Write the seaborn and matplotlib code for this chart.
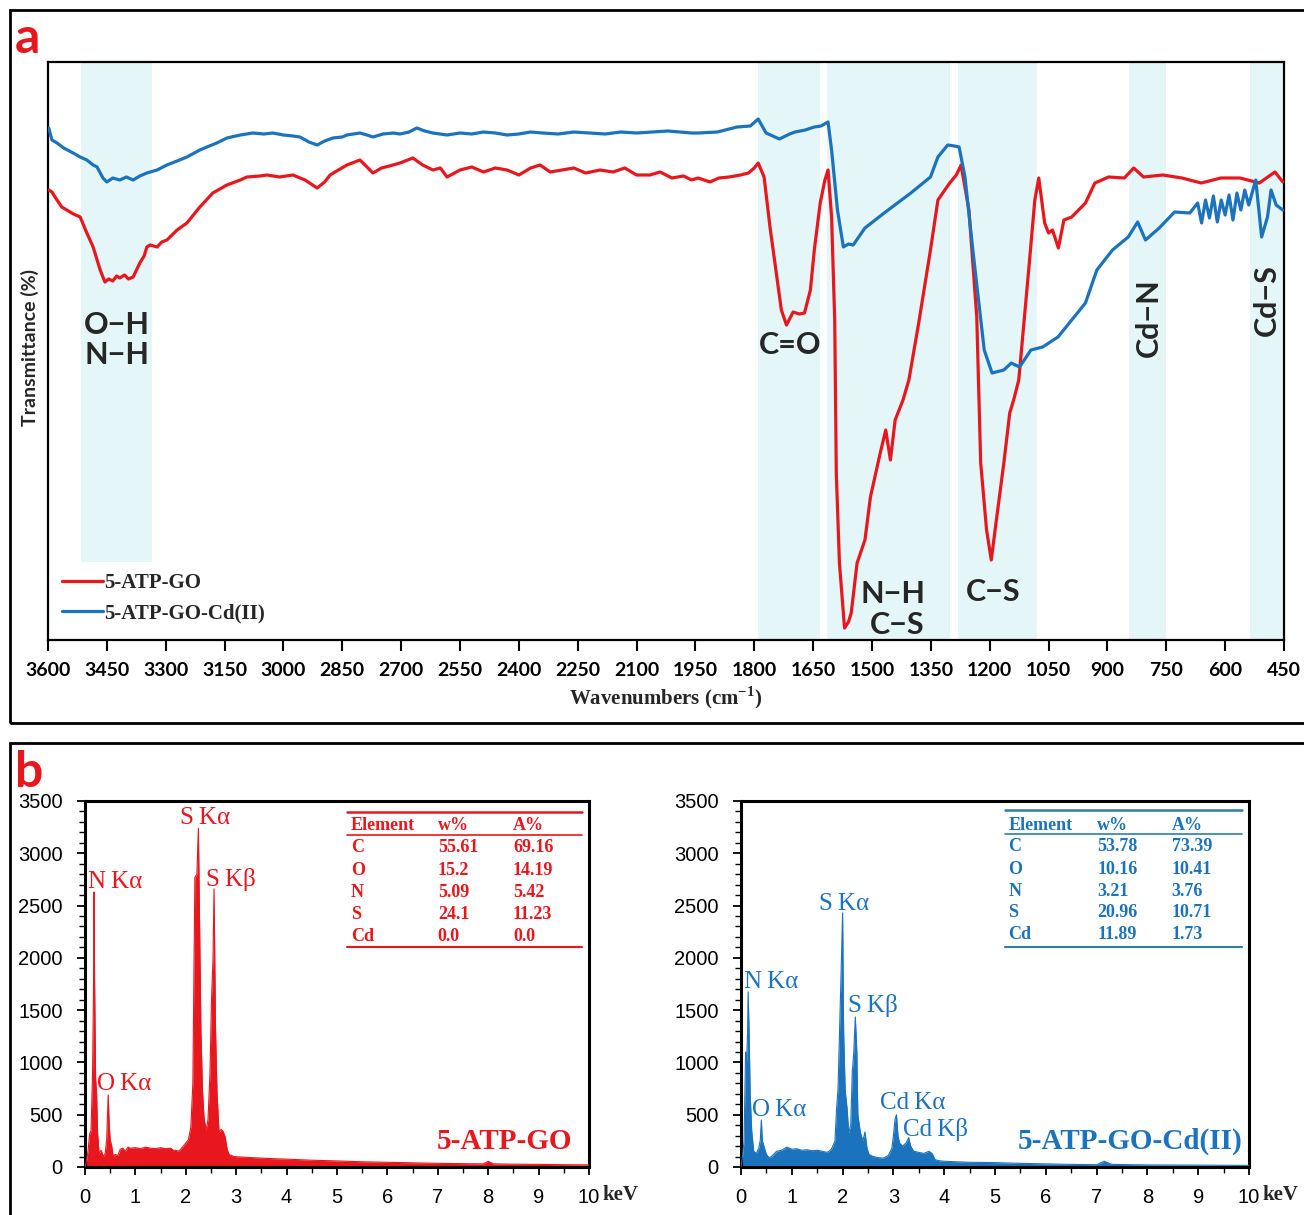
import matplotlib
matplotlib.use("Agg")
import matplotlib.pyplot as plt
from matplotlib.patches import Rectangle
from matplotlib.ticker import MultipleLocator
import pandas as pd
import seaborn as sns

sns.set_theme(style="white")
plt.rcParams['font.family'] = ['Lato', 'DejaVu Sans']
plt.rcParams['mathtext.fontset'] = 'custom'
plt.rcParams['mathtext.rm'] = 'Liberation Serif:bold'
plt.rcParams['mathtext.bf'] = 'Liberation Serif:bold'

RED = "#e8161d"
BLUE = "#1c73bd"
BAND = "#e4f6f7"
TEAL = "#2f7fa3"
SERIF = ['Liberation Serif', 'DejaVu Serif']

# ---------------- FTIR spectra ----------------
wn_go = [3598, 3590, 3577, 3565, 3552, 3535, 3518, 3501, 3485, 3467, 3455, 3445, 3435, 3425,
         3417, 3405, 3395, 3383, 3366, 3355, 3348, 3340, 3322, 3310, 3297, 3271, 3246, 3213,
         3180, 3144, 3110, 3093, 3060, 3042, 3010, 2976, 2945, 2914, 2895, 2881, 2860, 2838,
         2805, 2787, 2772, 2750, 2730, 2703, 2670, 2645, 2619, 2600, 2583, 2550, 2520, 2490,
         2460, 2430, 2400, 2370, 2346, 2320, 2290, 2260, 2230, 2193, 2160, 2130, 2100, 2066,
         2040, 2010, 1980, 1960, 1943, 1913, 1890, 1864, 1835, 1815, 1800, 1790, 1775, 1760,
         1746, 1731, 1718, 1701, 1685, 1672, 1657, 1647, 1632, 1620, 1612, 1603, 1595, 1591,
         1583, 1570, 1560, 1553, 1538, 1518, 1504, 1479, 1465, 1453, 1441, 1421, 1406, 1381,
         1351, 1332, 1302, 1285, 1273, 1253, 1233, 1223, 1208, 1196, 1184, 1164, 1149, 1139,
         1126, 1100, 1085, 1075, 1060, 1050, 1040, 1025, 1011, 991, 956, 932, 897, 857, 833,
         808, 759, 710, 661, 611, 562, 513, 473, 453]
t_go = [51.0, 50.8, 50.0, 49.3, 49.0, 48.6, 48.3, 46.7, 45.3, 43.0, 41.8, 42.1, 41.9, 42.4,
        42.2, 42.5, 42.1, 42.3, 43.7, 44.4, 45.3, 45.5, 45.3, 45.8, 46.0, 47.0, 47.7, 49.3,
        50.7, 51.5, 52.0, 52.3, 52.4, 52.5, 52.3, 52.5, 52.0, 51.2, 51.8, 52.5, 53.0, 53.5,
        54.0, 53.3, 52.7, 53.2, 53.4, 53.7, 54.2, 53.5, 53.0, 53.2, 52.3, 53.0, 53.3, 52.8,
        53.2, 53.0, 52.5, 53.2, 53.5, 52.8, 53.0, 53.2, 52.7, 53.0, 52.8, 53.2, 52.5, 52.5,
        52.8, 52.2, 52.4, 52.0, 52.2, 51.8, 52.2, 52.3, 52.5, 52.7, 53.2, 53.7, 52.3, 47.3,
        43.3, 39.0, 37.5, 38.8, 38.6, 38.7, 41.0, 45.0, 49.7, 52.0, 53.0, 48.3, 38.0, 22.7,
        13.7, 7.2, 7.8, 8.7, 13.7, 16.0, 20.3, 24.7, 27.0, 24.0, 28.0, 30.0, 32.0, 37.7,
        45.0, 50.0, 51.7, 52.5, 53.5, 49.0, 38.3, 23.7, 17.0, 14.0, 17.7, 23.7, 28.7, 30.0,
        32.0, 43.3, 50.0, 52.2, 47.7, 46.7, 47.0, 45.2, 48.0, 48.3, 49.7, 51.7, 52.3, 52.2, 53.2,
        52.3, 52.5, 52.2, 51.7, 52.2, 52.2, 51.7, 52.8, 51.8]

wn_cd = [3598, 3590, 3577, 3560, 3536, 3518, 3501, 3485, 3475, 3460, 3450, 3435, 3417, 3400,
         3383, 3366, 3348, 3322, 3297, 3271, 3246, 3213, 3195, 3170, 3144, 3110, 3078, 3050,
         3027, 3000, 2976, 2958, 2935, 2914, 2895, 2874, 2850, 2838, 2805, 2787, 2772, 2746,
         2720, 2703, 2680, 2660, 2640, 2619, 2583, 2550, 2520, 2490, 2460, 2430, 2400, 2370,
         2340, 2300, 2260, 2220, 2180, 2140, 2100, 2060, 2020, 1990, 1960, 1943, 1894, 1844,
         1810, 1790, 1770, 1736, 1710, 1696, 1670, 1647, 1630, 1612, 1603, 1588, 1573, 1560,
         1548, 1518, 1469, 1401, 1351, 1332, 1307, 1290, 1278, 1263, 1243, 1214, 1194, 1164,
         1145, 1124, 1095, 1065, 1026, 956, 927, 887, 847, 823, 803, 768, 729, 690, 670, 660,
         650, 640, 630, 620, 610, 600, 590, 580, 570, 560, 550, 540, 522, 507, 492, 483, 470, 453]
t_cd = [57.2, 56.0, 55.7, 55.2, 54.7, 54.3, 54.0, 53.5, 53.3, 52.2, 51.8, 52.2, 52.0, 52.3,
        52.0, 52.4, 52.7, 53.0, 53.5, 53.9, 54.3, 55.0, 55.3, 55.7, 56.2, 56.5, 56.7, 56.6,
        56.7, 56.5, 56.4, 56.3, 55.8, 55.5, 55.9, 56.2, 56.3, 56.5, 56.7, 56.5, 56.3, 56.6,
        56.7, 56.6, 56.8, 57.2, 56.9, 56.7, 56.5, 56.7, 56.6, 56.8, 56.7, 56.5, 56.6, 56.8,
        56.7, 56.6, 56.8, 56.7, 56.6, 56.8, 56.7, 56.8, 56.9, 56.8, 56.7, 56.7, 56.8, 57.3,
        57.4, 58.1, 56.7, 56.1, 56.6, 56.8, 57.0, 57.3, 57.4, 57.8, 55.0, 49.0, 45.3, 45.6,
        45.5, 47.2, 48.7, 50.7, 52.3, 54.3, 55.5, 55.4, 55.3, 52.3, 45.0, 35.0, 32.7, 33.0,
        33.7, 33.3, 35.0, 35.3, 36.3, 39.7, 43.0, 45.0, 46.3, 47.8, 46.0, 47.2, 48.8, 48.7, 49.7, 47.7,
        50.0, 48.2, 50.4, 47.8, 50.0, 48.5, 50.5, 48.0, 50.7, 49.0, 51.0, 49.5, 52.0, 46.3, 48.3, 51.0, 49.5, 49.0]

# assignment bands (wavenumber ranges)
band_ranges = [(3516, 3335), (1790, 1632), (1614, 1302), (1280, 1080), (846, 751), (537, 450)]
ftir_ticks = list(range(3600, 449, -150))

# ---------------- EDS spectra ----------------
kev_go = [0.00, 0.03, 0.06, 0.09, 0.12, 0.15, 0.17, 0.18, 0.19, 0.21, 0.23, 0.25, 0.28, 0.32,
          0.36, 0.40, 0.43, 0.46, 0.48, 0.50, 0.53, 0.56, 0.60, 0.65, 0.70, 0.75, 0.80, 0.85,
          0.90, 1.00, 1.10, 1.20, 1.30, 1.40, 1.50, 1.60, 1.70, 1.75, 1.80, 1.85, 1.90, 1.95,
          2.00, 2.05, 2.10, 2.14, 2.18, 2.22, 2.25, 2.27, 2.30, 2.33, 2.36, 2.40, 2.44, 2.48,
          2.51, 2.54, 2.56, 2.59, 2.62, 2.66, 2.70, 2.74, 2.78, 2.82, 2.86, 2.95, 3.10, 3.30,
          3.50, 3.70, 4.00, 4.50, 5.00, 5.50, 6.00, 6.50, 7.00, 7.50, 7.90, 8.00, 8.10, 8.50,
          9.00, 9.50, 10.0]
cnt_go = [0, 60, 150, 310, 350, 900, 1750, 2630, 1800, 850, 700, 320, 130, 160,
          100, 130, 260, 690, 400, 260, 200, 100, 120, 110, 170, 180, 150, 190,
          180, 185, 175, 190, 180, 175, 185, 175, 180, 160, 160, 150, 170, 200,
          230, 260, 380, 800, 2770, 2800, 3240, 2450, 1300, 740, 480, 350, 450, 900,
          1600, 2000, 2660, 1300, 700, 330, 360, 340, 290, 170, 120, 100, 95, 90,
          85, 80, 75, 65, 58, 50, 45, 40, 35, 32, 30, 55, 30, 27,
          25, 22, 20]

kev_cd = [0.00, 0.03, 0.06, 0.09, 0.11, 0.13, 0.14, 0.16, 0.18, 0.21, 0.25, 0.30, 0.35, 0.38,
          0.40, 0.42, 0.45, 0.50, 0.55, 0.60, 0.70, 0.80, 0.90, 1.00, 1.10, 1.20, 1.30, 1.40,
          1.50, 1.60, 1.70, 1.78, 1.85, 1.88, 1.91, 1.94, 1.97, 2.00, 2.02, 2.05, 2.09, 2.12,
          2.16, 2.19, 2.22, 2.25, 2.28, 2.30, 2.35, 2.40, 2.44, 2.48, 2.52, 2.60, 2.70, 2.80,
          2.90, 2.97, 3.00, 3.03, 3.06, 3.09, 3.12, 3.18, 3.25, 3.30, 3.34, 3.40, 3.50, 3.60,
          3.70, 3.76, 3.82, 3.90, 4.00, 4.50, 5.00, 5.50, 6.00, 6.50, 7.00, 7.15, 7.30, 8.00,
          9.00, 10.0]
cnt_cd = [0, 100, 250, 1100, 1000, 1290, 1675, 1290, 700, 350, 150, 130, 180, 260,
          450, 250, 200, 120, 90, 100, 150, 160, 190, 170, 175, 160, 165, 155,
          160, 150, 140, 170, 250, 550, 750, 1300, 1850, 2430, 1300, 735, 550, 325,
          400, 900, 1100, 1435, 1100, 500, 330, 250, 335, 180, 120, 100, 90, 85,
          110, 180, 300, 450, 500, 300, 230, 200, 230, 280, 200, 150, 140, 130,
          150, 130, 70, 60, 55, 45, 42, 35, 30, 25, 22, 55, 25, 20,
          18, 15]

elements = ["C", "O", "N", "S", "Cd"]
wt_go = ["55.61", "15.2", "5.09", "24.1", "0.0"]
at_go = ["69.16", "14.19", "5.42", "11.23", "0.0"]
wt_cd = ["53.78", "10.16", "3.21", "20.96", "11.89"]
at_cd = ["73.39", "10.41", "3.76", "10.71", "1.73"]

W, H = 1304, 1215
fig = plt.figure(figsize=(W / 100, H / 100), dpi=100)


def fbox(x0, y0, x1, y1):
    """Pixel box (top-left origin) to figure fraction [l, b, w, h]."""
    return [x0 / W, 1 - y1 / H, (x1 - x0) / W, (y1 - y0) / H]


# panel frames
for (x0, y0, x1, y1) in [(10, 10, 1320, 723), (10, 743, 1320, 1230)]:
    l, b, w, h = fbox(x0, y0, x1, y1)
    fig.add_artist(Rectangle((l, b), w, h, transform=fig.transFigure, fill=False,
                             lw=2.0, edgecolor="black"))

# ---------------- panel a ----------------
ax = fig.add_axes(fbox(48, 62, 1284, 640))
ymin, ymax = 6.0, 63.8
for i, (a, b) in enumerate(band_ranges):
    lo = 0.135 if i == 0 else 0.0
    ax.axvspan(b, a, ymin=lo, ymax=1.0, color=BAND, lw=0, zorder=0)

df_go = pd.DataFrame({"wn": wn_go, "T": t_go})
df_cd = pd.DataFrame({"wn": wn_cd, "T": t_cd})
sns.lineplot(data=df_go, x="wn", y="T", ax=ax, color=RED, lw=2.3, sort=False,
             estimator=None, label="5-ATP-GO", zorder=3)
sns.lineplot(data=df_cd, x="wn", y="T", ax=ax, color=BLUE, lw=2.3, sort=False,
             estimator=None, label="5-ATP-GO-Cd(II)", zorder=3)
ax.set_xlim(3600, 450)
ax.set_ylim(ymin, ymax)
ax.set_xticks(ftir_ticks)
ax.set_xticklabels([str(t) for t in ftir_ticks], fontweight="bold", fontsize=14)
ax.set_yticks([])
ax.tick_params(axis="x", direction="out", length=8, width=1.5, pad=8, bottom=True,
               colors="black")
for s in ax.spines.values():
    s.set_linewidth(1.6)
    s.set_color("black")
ax.set_xlabel(r"Wavenumbers (cm$^{\mathbf{-1}}$)", family=SERIF, fontweight="bold",
              fontsize=15, labelpad=4)
ax.set_ylabel("")
fig.text(30 / W, 1 - 348 / H, "Transmittance (%)", rotation=90, ha="center", va="center",
         fontsize=14, fontweight="bold")
leg = ax.legend(loc="lower left", bbox_to_anchor=(-0.004, -0.004), frameon=False,
                handlelength=2.0, handletextpad=0.05, labelspacing=0.5,
                prop={"family": SERIF, "weight": "bold", "size": 15})

lab = dict(fontsize=22, fontweight="bold", ha="center", va="center",
           family=["Lato", "DejaVu Sans"], zorder=4)
ax.text(3424, 37.5, "O\u2212H", **lab)
ax.text(3424, 34.5, "N\u2212H", **lab)
ax.text(1709, 35.5, "C=O", **lab)
ax.text(1447, 10.6, "N\u2212H", **lab)
ax.text(1437, 7.5, "C\u2212S", **lab)
ax.text(1192, 10.8, "C\u2212S", **lab)
ax.text(795, 38.2, "Cd\u2212N", rotation=90, **lab)
ax.text(494, 40.0, "Cd\u2212S", rotation=90, **lab)

fig.text(15 / W, 1 - 53 / H, "a", color=RED, fontsize=36, fontweight="bold",
         ha="left", va="baseline")
fig.text(15 / W, 1 - 787 / H, "b", color=RED, fontsize=36, fontweight="bold",
         ha="left", va="baseline")


# ---------------- panel b ----------------
def eds_panel(box, kev, cnt, color, table_line, wt, at, peaks, name, rows_y):
    axe = fig.add_axes(fbox(*box))
    d = pd.DataFrame({"keV": kev, "counts": cnt})
    axe.fill_between(d["keV"], d["counts"], color=color, lw=0, zorder=2)
    sns.lineplot(data=d, x="keV", y="counts", ax=axe, color=color, lw=0.8,
                 estimator=None, zorder=3)
    axe.set_xlim(0, 10)
    axe.set_ylim(0, 3500)
    axe.set_xticks(range(0, 11))
    axe.set_yticks(range(0, 3501, 500))
    axe.xaxis.set_minor_locator(MultipleLocator(0.5))
    axe.yaxis.set_minor_locator(MultipleLocator(100))
    axe.tick_params(which="major", direction="out", length=6, width=1.3, pad=9,
                    labelsize=14.5, left=True, bottom=True, colors="black")
    axe.tick_params(which="minor", direction="out", length=4, width=1.0,
                    left=True, bottom=True, colors="black")
    axe.tick_params(axis="y", pad=10)
    for lbl in axe.get_xticklabels() + axe.get_yticklabels():
        lbl.set_family(["Liberation Sans", "DejaVu Sans"])
    for s in axe.spines.values():
        s.set_linewidth(2.2)
        s.set_color("black")
    axe.set_xlabel("")
    axe.set_ylabel("")
    axe.text(1.026, -0.0765, "keV", transform=axe.transAxes, ha="left", va="center",
             family=SERIF, fontweight="bold", fontsize=15)

    for (x, y, txt) in peaks:
        axe.text(x, y, txt, color=color, family=SERIF, fontsize=18, ha="left",
                 va="center", zorder=4)
    axe.text(name[0], name[1], name[2], transform=axe.transAxes, color=color,
             family=SERIF, fontweight="bold", fontsize=21, ha="right", va="center")

    # composition table
    x0, x1 = 0.520, 0.987
    tkw = dict(transform=axe.transAxes, clip_on=False, color=table_line)
    axe.plot([x0, x1], [rows_y["top"], rows_y["top"]], lw=1.8, **tkw)
    axe.plot([x0, x1], [rows_y["head_line"], rows_y["head_line"]], lw=1.2, **tkw)
    axe.plot([x0, x1], [rows_y["bottom"], rows_y["bottom"]], lw=1.5, **tkw)
    cols = rows_y["cols"]
    tf = dict(transform=axe.transAxes, color=color, family=SERIF, fontweight="bold",
              fontsize=13, ha="left", va="center")
    axe.text(cols[0], rows_y["head"], "Element", **tf)
    axe.text(cols[1], rows_y["head"], "w%", **tf)
    axe.text(cols[2], rows_y["head"], "A%", **tf)
    for i, el in enumerate(elements):
        yy = rows_y["rows"][i]
        axe.text(cols[0], yy, el, **tf)
        axe.text(cols[1], yy, wt[i], **tf)
        axe.text(cols[2], yy, at[i], **tf)
    return axe


peaks_go = [(0.06, 2725, "N\u2009K\u03b1"), (0.24, 795, "O\u2009K\u03b1"),
            (1.89, 3340, "S\u2009K\u03b1"), (2.41, 2745, "S\u2009K\u03b2")]
peaks_cd = [(0.06, 1770, "N\u2009K\u03b1"), (0.22, 545, "O\u2009K\u03b1"),
            (1.54, 2515, "S\u2009K\u03b1"), (2.11, 1540, "S\u2009K\u03b2"),
            (2.73, 612, "Cd\u2009K\u03b1"), (3.18, 363, "Cd\u2009K\u03b2")]

tbl_go = dict(top=0.970, head_line=0.907, bottom=0.601, head=0.934,
              rows=[0.872, 0.811, 0.751, 0.691, 0.631], cols=[0.528, 0.700, 0.849])
tbl_cd = dict(top=0.975, head_line=0.910, bottom=0.601, head=0.934,
              rows=[0.875, 0.814, 0.754, 0.694, 0.634], cols=[0.526, 0.701, 0.848])

eds_panel((85, 801, 589, 1167), kev_go, cnt_go, RED, RED, wt_go, at_go, peaks_go,
          (0.966, 0.071, "5-ATP-GO"), tbl_go)
eds_panel((741, 801, 1249, 1167), kev_cd, cnt_cd, BLUE, TEAL, wt_cd, at_cd, peaks_cd,
          (0.988, 0.071, "5-ATP-GO-Cd(II)"), tbl_cd)

fig.savefig("out.png", dpi=100, facecolor="white")
